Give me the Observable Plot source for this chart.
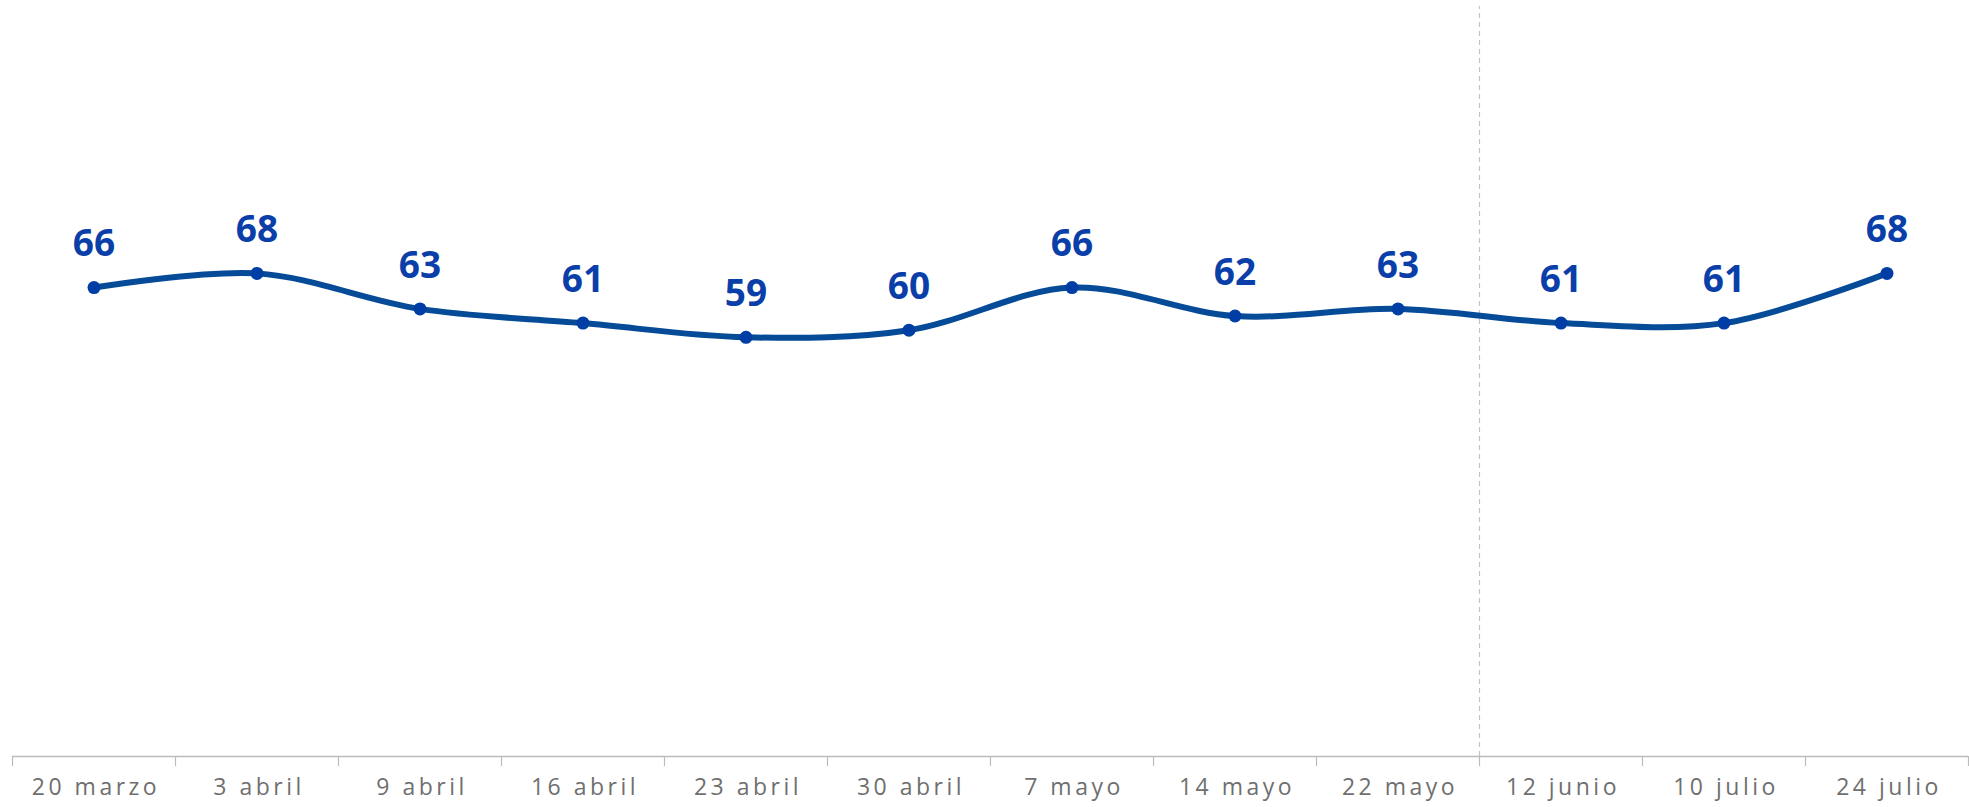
<!DOCTYPE html>
<html>
<head>
<meta charset="utf-8">
<script src="https://cdn.jsdelivr.net/npm/d3@7"></script>
<script src="https://cdn.jsdelivr.net/npm/@observablehq/plot@0.6"></script>
<style>
  html, body { margin: 0; padding: 0; background: #ffffff; }
  #chart svg { display: block; }
  #chart svg g[aria-label="x-axis tick label"] text { letter-spacing: 3.5px; }
</style>
</head>
<body>
<div id="chart"></div>
<script>
const categories = ["20 marzo", "3 abril", "9 abril", "16 abril", "23 abril", "30 abril", "7 mayo", "14 mayo", "22 mayo", "12 junio", "10 julio", "24 julio"];
const values = [66, 68, 63, 61, 59, 60, 66, 62, 63, 61, 61, 68];
const dividerAfter = "22 mayo";

const data = categories.map((c, i) => ({i, label: c, v: values[i]}));
const dividerX = categories.indexOf(dividerAfter) + 0.5;
const boundaries = d3.range(-0.5, categories.length, 1);

const chart = Plot.plot({
  width: 1969,
  height: 807,
  marginLeft: 12,
  marginRight: 1,
  marginTop: 10,
  marginBottom: 51,
  style: {background: "#ffffff"},
  x: {type: "linear", domain: [-0.5, categories.length - 0.5], axis: null, label: null},
  y: {domain: [0, 105], axis: null, label: null},
  marks: [
    Plot.ruleX([dividerX], {y1: 0, y2: 105.6, stroke: "#c4c4c4", strokeWidth: 1.2, strokeDasharray: "5,4"}),
    Plot.ruleY([0], {stroke: "#bcbcbc", strokeWidth: 1.5}),
    Plot.axisX({ticks: boundaries, tickSize: 10, tickFormat: () => "", label: null, stroke: "#bcbcbc", strokeWidth: 1.2}),
    Plot.axisX({ticks: d3.range(categories.length), tickSize: 0, tickPadding: 22, label: null,
      tickFormat: d => categories[d], fontSize: 23, fill: "#6f6f6f", dx: 2,
      fontFamily: "'Open Sans', sans-serif"}),
    Plot.line(data, {x: "i", y: "v", curve: "catmull-rom", stroke: "#064b97", strokeWidth: 6}),
    Plot.dot(data, {x: "i", y: "v", r: 6.5, fill: "#003da5", stroke: "none"}),
    Plot.text(data, {x: "i", y: "v", text: d => String(d.v), dy: -43, fontSize: 37,
      fontWeight: "bold", fill: "#0a3ea8", fontFamily: "'Open Sans', sans-serif"})
  ]
});
document.getElementById("chart").appendChild(chart);
</script>
</body>
</html>
